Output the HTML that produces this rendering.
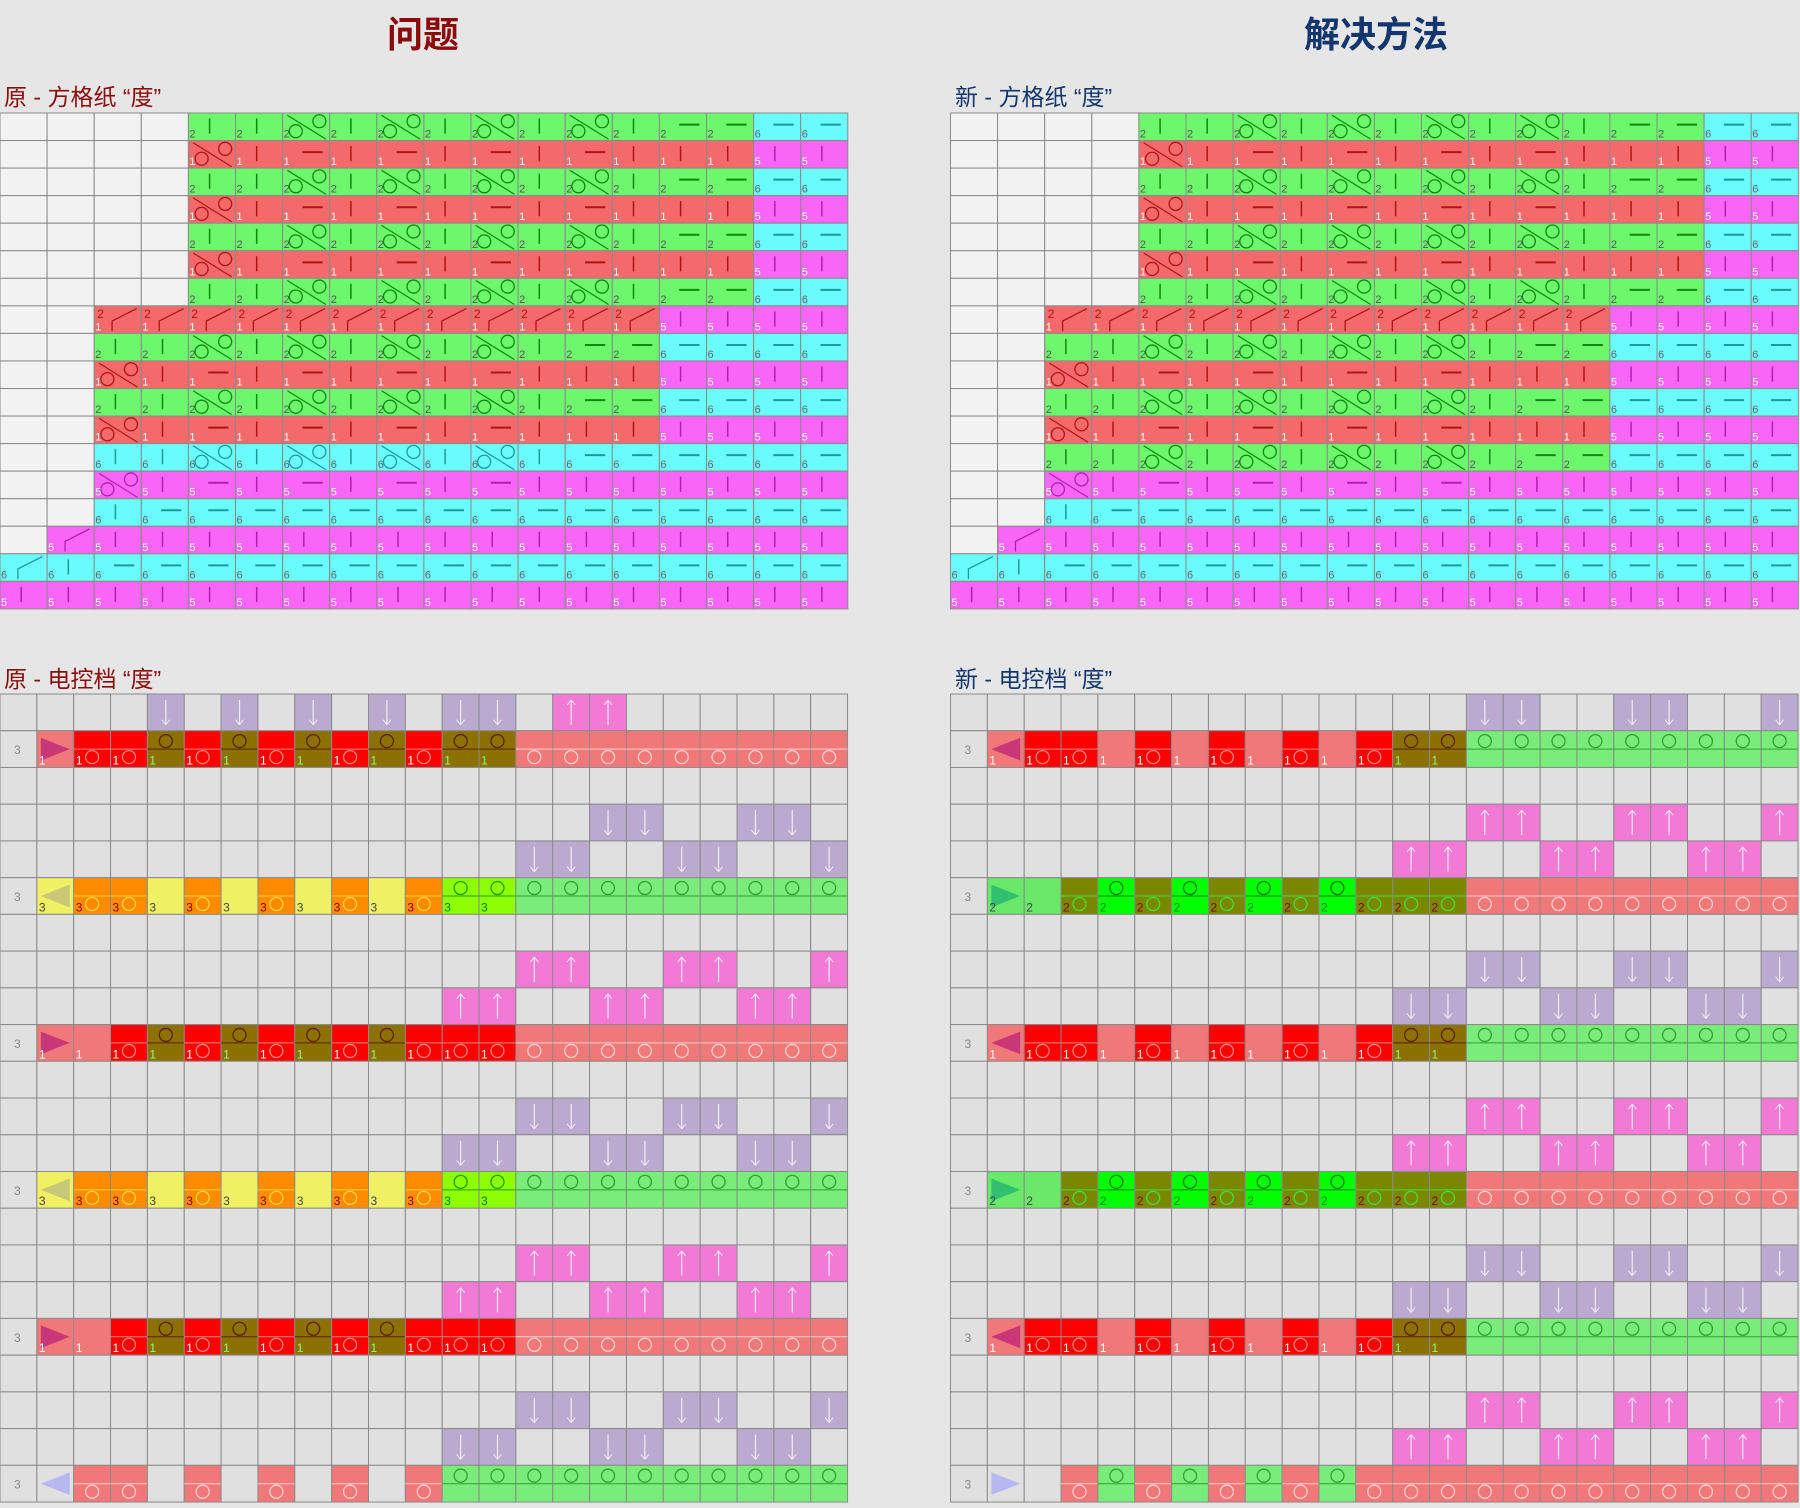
<!DOCTYPE html>
<html><head><meta charset="utf-8">
<style>
html,body{margin:0;padding:0;background:#e6e6e6;}
body{width:1800px;height:1508px;overflow:hidden;position:relative;font-family:"Liberation Sans","Noto Sans CJK SC",sans-serif;}
.t{position:absolute;font-weight:bold;font-size:36px;}
.s{position:absolute;font-size:23px;}
svg{position:absolute;left:0;top:0;}
</style></head><body>
<div class="t" style="left:387px;top:6px;color:#8b0a0a;">问题</div>
<div class="t" style="left:1304px;top:6px;color:#13366e;">解决方法</div>
<div class="s" style="left:4px;top:78px;color:#8b0a0a;">原 - 方格纸 “度”</div>
<div class="s" style="left:955px;top:78px;color:#13366e;">新 - 方格纸 “度”</div>
<div class="s" style="left:4px;top:660px;color:#8b0a0a;">原 - 电控档 “度”</div>
<div class="s" style="left:955px;top:660px;color:#13366e;">新 - 电控档 “度”</div>
<svg id="sv" width="1800" height="1508" xmlns="http://www.w3.org/2000/svg"></svg>
<script>
var out=[];
function R(x,y,w,h,f){out.push('<rect x="'+x+'" y="'+y+'" width="'+w+'" height="'+h+'" fill="'+f+'" stroke="#8a8a8a" stroke-width="1"/>');}
function L(x1,y1,x2,y2,c,w){out.push('<line x1="'+x1+'" y1="'+y1+'" x2="'+x2+'" y2="'+y2+'" stroke="'+c+'" stroke-width="'+(w||1.5)+'"/>');}
function C(x,y,r,c){out.push('<circle cx="'+x+'" cy="'+y+'" r="'+r+'" fill="none" stroke="'+c+'" stroke-width="1.3"/>');}
function T(x,y,s,c,z){out.push('<text x="'+x+'" y="'+y+'" font-size="'+(z||11)+'" fill="'+c+'" font-family="Liberation Sans">'+s+'</text>');}
var TC={g:['#6cf76c','#0d8a0d','2','#555'],r:['#f46a6a','#b01515','1','#fff'],c:['#6afcfc','#1a9a9a','6','#666'],m:['#f866f8','#b020b0','5','#fff'],b:['#f2f2f2']};
function rep(t,n){var a=[];for(var i=0;i<n;i++)a.push(t);return a;}
function topGrid(X,rows){
 var cw=47.1,ch=27.55,Y=113;
 rows.forEach(function(row,ri){row.forEach(function(tk,ci){
  var x=X+ci*cw,y=Y+ri*ch,k=tk[0],sy=tk[1];var t=TC[k];R(x,y,cw,ch,t[0]);if(k=='b')return;
  var sc=t[1];
  if(sy=='|')L(x+cw*0.45,y+ch*0.2,x+cw*0.45,y+ch*0.75,sc);
  else if(sy=='-')L(x+cw*0.42,y+ch*0.42,x+cw*0.85,y+ch*0.42,sc,2);
  else if(sy=='d'){L(x+cw*0.1,y+ch*0.08,x+cw*0.92,y+ch*0.95,sc,1.2);C(x+cw*0.28,y+ch*0.66,6.5,sc);C(x+cw*0.78,y+ch*0.3,6.5,sc);}
  else if(sy=='/'){out.push('<polyline points="'+(x+cw*0.38)+','+(y+ch*0.92)+' '+(x+cw*0.38)+','+(y+ch*0.55)+' '+(x+cw*0.9)+','+(y+ch*0.1)+'" fill="none" stroke="'+sc+'" stroke-width="1.3"/>');
   if(k=='r')T(x+3,y+ch*0.45,'2',sc,12);}
  T(x+1,y+ch-3,t[2],t[3]);
 });});
}
function build(){var rows=[];
 var G=['g|','g|','gd','g|','gd','g|','gd','g|','gd','g|','g-','g-','c-','c-'];
 var Rr=['rd','r|','r-','r|','r-','r|','r-','r|','r-','r|','r|','r|','m|','m|'];
 for(var i=0;i<7;i++)rows.push(rep('b',4).concat(i%2?Rr:G));
 rows.push(['b','b'].concat(rep('r/',12),rep('m|',4)));
 var G2=['g|','g|','gd','g|','gd','g|','gd','g|','gd','g|','g-','g-','c-','c-','c-','c-'];
 var R2=['rd','r|','r-','r|','r-','r|','r-','r|','r-','r|','r|','r|','m|','m|','m|','m|'];
 rows.push(['b','b'].concat(G2));rows.push(['b','b'].concat(R2));
 rows.push(['b','b'].concat(G2));rows.push(['b','b'].concat(R2));
 return rows;}
var A=build();
A.push(['b','b','c|','c|','cd','c|','cd','c|','cd','c|','cd','c|'].concat(rep('c-',6)));
A.push(['b','b','md','m|','m-','m|','m-','m|','m-','m|','m-'].concat(rep('m|',7)));
A.push(['b','b','c|'].concat(rep('c-',15)));
A.push(['b','m/'].concat(rep('m|',16)));
A.push(['c/','c|'].concat(rep('c-',16)));
A.push(rep('m|',18));
topGrid(0,A);
var B=build();
B.push(['b','b','g|','g|','gd','g|','gd','g|','gd','g|','gd','g|','g-','g-','c-','c-','c-','c-']);
B.push(A[13]);B.push(A[14]);B.push(A[15]);B.push(A[16]);B.push(A[17]);
topGrid(950.5,B);
var BC={e:'#e0e0e0',s:'#f07878',R:'#ff0000',o:'#8c7000',O:'#7a8800',y:'#f0f064',n:'#ff8c00',l:'#8cff00',G:'#7aec7a',b:'#00ff00',h:'#6ae86a',v:'#baaad0',p:'#f07ad4'};
function botGrid(X,rows){
 var cw=36.85,ch=36.73,Y=694;
 rows.forEach(function(row,ri){
  var y=Y+ri*ch;R(X,y,cw,ch,'#e0e0e0');
  var colored=row.some(function(t){return t[0]!='e'&&t[0]!='v'&&t[0]!='p';});
  if(colored)T(X+14,y+ch/2+5,'3','#888',12);
  row.forEach(function(tk,i){
   var x=X+(i+1)*cw,k=tk[0],sy=tk.slice(1);R(x,y,cw,ch,BC[k]);
   var m=y+ch/2;
   if(k=='v')L(x+cw/2,y+6,x+cw/2,y+ch-6,'#f0ecf6',1.2),L(x+cw/2-4,y+ch-11,x+cw/2,y+ch-6,'#f0ecf6',1),L(x+cw/2+4,y+ch-11,x+cw/2,y+ch-6,'#f0ecf6',1);
   if(k=='p')L(x+cw/2,y+6,x+cw/2,y+ch-6,'#fbe8f6',1.2),L(x+cw/2-4,y+11,x+cw/2,y+6,'#fbe8f6',1),L(x+cw/2+4,y+11,x+cw/2,y+6,'#fbe8f6',1);
   var lc={s:'#ffd0d0',R:'#ff8080',o:'#5a2000',O:'#40e040',y:'#e0a000',n:'#ffd040',l:'#20a000',G:'#30a030',b:'#108010',h:'#30a030'}[k];
   if(sy.indexOf('L')>=0){L(x,m,x+cw,m,lc,1);C(x+cw/2,m+8,6.5,lc);}
   if(sy.indexOf('U')>=0){L(x,m,x+cw,m,lc,1);C(x+cw/2,m-8,6.5,lc);}
   if(sy.indexOf('>')>=0||sy.indexOf('<')>=0){
    var tc=sy.indexOf('m')>=0?'#c83878':sy.indexOf('g')>=0?'#30c070':sy.indexOf('y')>=0?'#c8c878':'#b8b8f0';
    var p=sy.indexOf('>')>=0?[x+4,y+7,x+cw-4,m,x+4,y+ch-7]:[x+cw-4,y+7,x+4,m,x+cw-4,y+ch-7];
    out.push('<polygon points="'+p.join(',')+'" fill="'+tc+'"/>');}
   var num=sy.match(/[123]/);if(num){var nc={R:'#fff',s:'#fff',o:'#8f8',O:'#800',y:'#444',n:'#800',l:'#080',h:'#444',b:'#080'}[k]||'#444';T(x+2,y+ch-3,num[0],nc,12);}
  });});
}
function row(spec){return spec.trim().split(/\s+/);}
function sparse(c,cols){var r=rep('e',22);cols.forEach(function(i){r[i-1]=c;});return r;}
var g=rep('e',22),aA=[14,15,18,19,22],aB=[12,13,16,17,20,21];
var L1=row('s>m1 R1L R1L o1U R1L o1U R1L o1U R1L o1U R1L o1U o1U sL sL sL sL sL sL sL sL sL');
var L5=row('y<y3 n3L n3L y3 n3L y3 n3L y3 n3L y3 n3L l3U l3U GU GU GU GU GU GU GU GU GU');
var L9=row('s>m1 s1 R1L o1U R1L o1U R1L o1U R1L o1U R1L R1L R1L sL sL sL sL sL sL sL sL sL');
var L21=row('e< sL sL e sL e sL e sL e sL GU GU GU GU GU GU GU GU GU GU GU');
var left=[sparse('v',[4,6,8,10,12,13]).map(function(t,i){return (i==14||i==15)?'p':t;}),L1,g,sparse('v',[16,17,20,21]),sparse('v',aA),L5,g,sparse('p',aA),sparse('p',aB),L9,g,sparse('v',aA),sparse('v',aB),L5,g,sparse('p',aA),sparse('p',aB),L9,g,sparse('v',aA),sparse('v',aB),L21];
botGrid(0,left);
var R1=row('s<m1 R1L R1L s1 R1L s1 R1L s1 R1L s1 R1L o1U o1U GU GU GU GU GU GU GU GU GU');
var R5=row('h>g2 h2 O2L b2U O2L b2U O2L b2U O2L b2U O2L O2L O2L sL sL sL sL sL sL sL sL sL');
var R21=row('e> e sL GU sL GU sL GU sL GU sL sL sL sL sL sL sL sL sL sL sL sL');
var right=[sparse('v',aA),R1,g,sparse('p',aA),sparse('p',aB),R5,g,sparse('v',aA),sparse('v',aB),R1,g,sparse('p',aA),sparse('p',aB),R5,g,sparse('v',aA),sparse('v',aB),R1,g,sparse('p',aA),sparse('p',aB),R21];
botGrid(950.5,right);
document.getElementById('sv').innerHTML=out.join('');
</script>
</body></html>
